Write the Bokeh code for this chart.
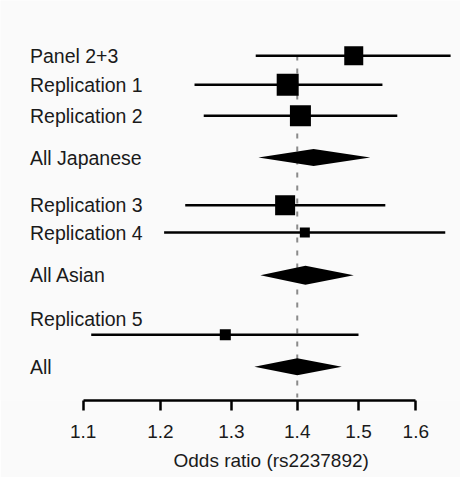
from bokeh.plotting import figure
from bokeh.models import Range1d, FixedTicker, PrintfTickFormatter, ColumnDataSource, Title
from bokeh.core.properties import value
from bokeh.embed import file_html
from bokeh.resources import INLINE

# ---- data ----
study_labels = ["Panel 2+3", "Replication 1", "Replication 2", "Replication 3",
                "Replication 4", "Replication 5"]
study_or = [1.492, 1.385, 1.405, 1.381, 1.412, 1.291]
study_lo = [1.336, 1.247, 1.260, 1.234, 1.205, 1.110]
study_hi = [1.664, 1.541, 1.567, 1.546, 1.654, 1.500]
study_box = [19, 22, 21, 20, 10, 11]          # square size (study weight)

summary_labels = ["All Japanese", "All Asian", "All"]
summary_or = [1.426, 1.413, 1.400]
summary_lo = [1.340, 1.343, 1.334]
summary_hi = [1.520, 1.492, 1.472]

tick_values = [1.1, 1.2, 1.3, 1.4, 1.5, 1.6]
reference_or = 1.4
axis_title = "Odds ratio (rs2237892)"

# ---- layout (rows in page pixel units) ----
study_row = [63.3, 92.3, 123.3, 212.7, 240.0, 342.3]
study_label_row = [63.3, 92.3, 123.3, 212.7, 240.0, 326.0]
summary_row = [165.0, 282.7, 374.3]
diamond_half = [8.5, 9.5, 8.5]

FONT = "Liberation Sans"
TXT = "#1a1a1a"
BG = "#fafafa"
LABEL_X = 1.036

p = figure(width=460, height=481, frame_width=460, frame_height=400,
           x_axis_type="log", x_range=Range1d(1.00216, 1.68266),
           y_range=Range1d(408, 8), y_axis_location=None,
           output_backend="svg", toolbar_location=None,
           min_border_left=0, min_border_right=0, min_border_top=0,
           background_fill_color=BG, border_fill_color=BG)
p.outline_line_color = None
p.xgrid.visible = False
p.ygrid.visible = False

# reference dashed line
p.segment(x0=[reference_or], y0=[63], x1=[reference_or], y1=[405],
          line_color="#8a8a8a", line_width=2, line_dash="5 8")

# confidence intervals
p.segment(x0=study_lo, y0=study_row, x1=study_hi, y1=study_row,
          line_color="black", line_width=2.5)
# squares
p.scatter(x=study_or, y=study_row, size=study_box, marker="square",
          fill_color="black", line_color=None)

# diamonds
xs, ys = [], []
for lo, est, hi, y, h in zip(summary_lo, summary_or, summary_hi, summary_row, diamond_half):
    xs.append([lo, est, hi, est])
    ys.append([y, y - h, y, y + h])
p.patches(xs=xs, ys=ys, fill_color="black", line_color=None)

# labels
all_labels = study_labels + summary_labels
all_label_y = study_label_row + summary_row
src = ColumnDataSource(dict(x=[LABEL_X] * len(all_labels), y=all_label_y, t=all_labels))
p.text(x="x", y="y", text="t", source=src, text_font=value(FONT),
       text_font_size="19.5px", text_align="left", text_baseline="middle",
       text_color=TXT)

# axis
ax = p.xaxis[0]
ax.ticker = FixedTicker(ticks=tick_values)
ax.formatter = PrintfTickFormatter(format="%.1f")
ax.bounds = (tick_values[0], tick_values[-1])
ax.axis_line_width = 2.5
ax.axis_line_color = "black"
ax.major_tick_line_width = 2.5
ax.major_tick_line_color = "black"
ax.major_tick_in = 0
ax.major_tick_out = 10
ax.minor_tick_line_color = None
ax.major_label_text_font = FONT
ax.major_label_text_font_size = "19px"
ax.major_label_text_color = TXT
ax.major_label_standoff = 14

t = Title(text=axis_title, align="left", offset=173, text_font=FONT,
          text_font_size="19px", text_font_style="normal", text_color=TXT,
          standoff=14)
p.add_layout(t, "below")

open("out.html", "w").write(file_html(p, INLINE))
